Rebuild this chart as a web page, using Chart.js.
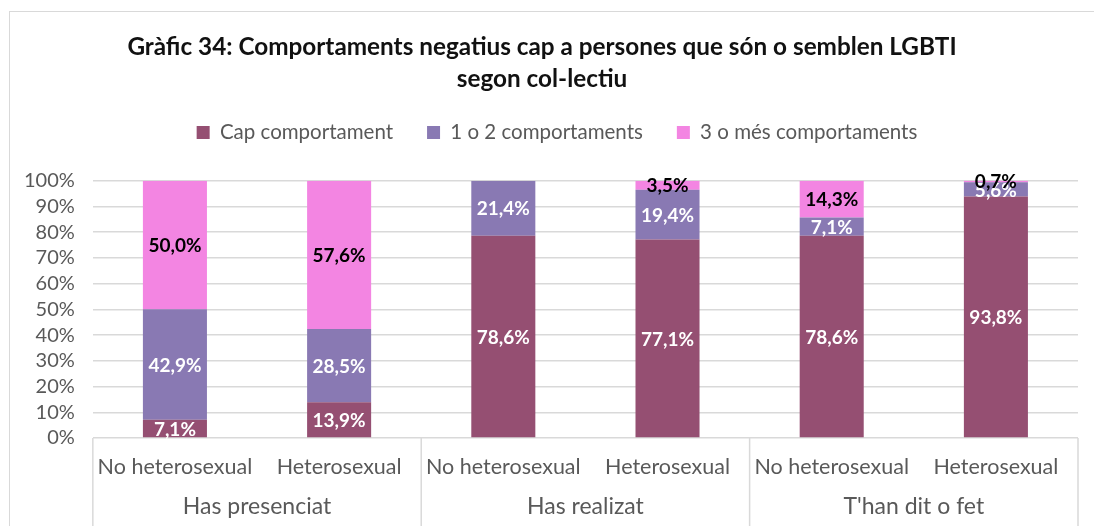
<!DOCTYPE html>
<html><head><meta charset="utf-8">
<script src="https://cdn.jsdelivr.net/npm/chart.js@4"></script>
<style>
html,body{margin:0;padding:0;background:#fff;overflow:hidden;width:1094px;height:526px}
#frame{position:absolute;left:9px;top:11px;width:1200px;height:600px;border:1.5px solid #d9d9d9;box-sizing:border-box}
#wrap{position:absolute;left:0;top:0;width:1094px;height:526px}
</style></head><body>
<div id="frame"></div>
<div id="wrap"><canvas id="c" width="1094" height="526"></canvas></div>
<script>
const categories = ['No heterosexual','Heterosexual','No heterosexual','Heterosexual','No heterosexual','Heterosexual'];
const groups = ['Has presenciat','Has realizat',"T'han dit o fet"];
const seriesNames = ['Cap comportament','1 o 2 comportaments','3 o més comportaments'];
const capComportament = [7.1,13.9,78.6,77.1,78.6,93.8];
const unODosComportaments = [42.9,28.5,21.4,19.4,7.1,5.6];
const tresOMesComportaments = [50.0,57.6,0,3.5,14.3,0.7];
const seriesColors = ['#954F72','#8979B3','#F385E2'];
const labelColors = ['#ffffff','#ffffff','#000000'];
const titleLines = ['Gràfic 34: Comportaments negatius cap a persones que són o semblen LGBTI','segon col-lectiu'];

const FONT = "Lato, 'Open Sans', sans-serif";
const GRID = '#d9d9d9';
const TEXT = '#595959';

const legendGap = {
  id:'legendGap',
  beforeLayout(chart){
    const l = chart.legend;
    if(l && !l._patched){
      const f = l.fit;
      l.fit = function(){ f.call(this); this.height += 28; };
      const d = l.draw;
      l.draw = function(){ const c = this.ctx; c.save(); c.translate(15,0); d.call(this); c.restore(); };
      l._patched = true;
    }
  }
};

const separators = {
  id:'separators',
  afterDraw(chart){
    const x = chart.scales.x, a = chart.chartArea, ctx = chart.ctx;
    const n = categories.length;
    ctx.save();
    ctx.strokeStyle = GRID; ctx.lineWidth = 1.5;
    for(let k=0;k<=n;k+=2){
      let px;
      if(k===0) px = a.left; else if(k===n) px = a.right;
      else px = (x.getPixelForTick(k-1)+x.getPixelForTick(k))/2;
      ctx.beginPath(); ctx.moveTo(px, a.bottom); ctx.lineTo(px, chart.height); ctx.stroke();
    }
    ctx.restore();
  }
};

const dataLabels = {
  id:'dataLabels',
  afterDatasetsDraw(chart){
    const ctx = chart.ctx;
    ctx.save();
    ctx.font = "bold 19px " + FONT;
    ctx.textAlign = 'center'; ctx.textBaseline = 'middle';
    chart.data.datasets.forEach((ds,i)=>{
      const meta = chart.getDatasetMeta(i);
      meta.data.forEach((bar,j)=>{
        const v = ds.data[j];
        if(!v) return;
        const t = v.toFixed(1).replace('.',',')+'%';
        ctx.fillStyle = labelColors[i];
        ctx.fillText(t, bar.x, (bar.y+bar.base)/2 + 1);
      });
    });
    ctx.restore();
  }
};

const seriesData = [capComportament, unODosComportaments, tresOMesComportaments];

new Chart(document.getElementById('c'), {
  type:'bar',
  data:{
    labels: categories,
    datasets: seriesNames.map((name,i)=>({
      label:name, data:seriesData[i], backgroundColor:seriesColors[i],
      borderWidth:0, categoryPercentage:1, barPercentage:0.39
    }))
  },
  options:{
    responsive:false, animation:false, devicePixelRatio:1,
    layout:{padding:{left:6,right:16,top:0,bottom:0}},
    plugins:{
      title:{display:true, text:titleLines, color:'#111111',
        font:{family:FONT,size:24.3,weight:'bold',lineHeight:1.32}, padding:{top:31,bottom:-7}},
      legend:{position:'top', labels:{font:{family:FONT,size:20.5}, color:TEXT, boxWidth:13, boxHeight:13, padding:34}},
      tooltip:{enabled:false}
    },
    scales:{
      x:{stacked:true, grid:{display:false, drawTicks:false}, border:{display:false},
        afterFit:(s)=>{ s.height = 40; },
        ticks:{font:{family:FONT,size:21.5}, color:TEXT, padding:16, maxRotation:0, autoSkip:false}},
      x2:{type:'category', labels:groups, position:'bottom', offset:true,
        grid:{display:false, drawTicks:false}, border:{display:false},
        afterFit:(s)=>{ s.height = 48; },
        ticks:{font:{family:FONT,size:23}, color:TEXT, padding:15, maxRotation:0, autoSkip:false}},
      y:{stacked:true, min:0, max:100, grid:{color:GRID, lineWidth:1.5, drawTicks:false}, border:{display:false},
        ticks:{stepSize:10, autoSkip:false, font:{family:FONT,size:20}, color:TEXT, padding:18, callback:v=>v+'%'}}
    }
  },
  plugins:[legendGap, separators, dataLabels]
});
</script>
</body></html>
